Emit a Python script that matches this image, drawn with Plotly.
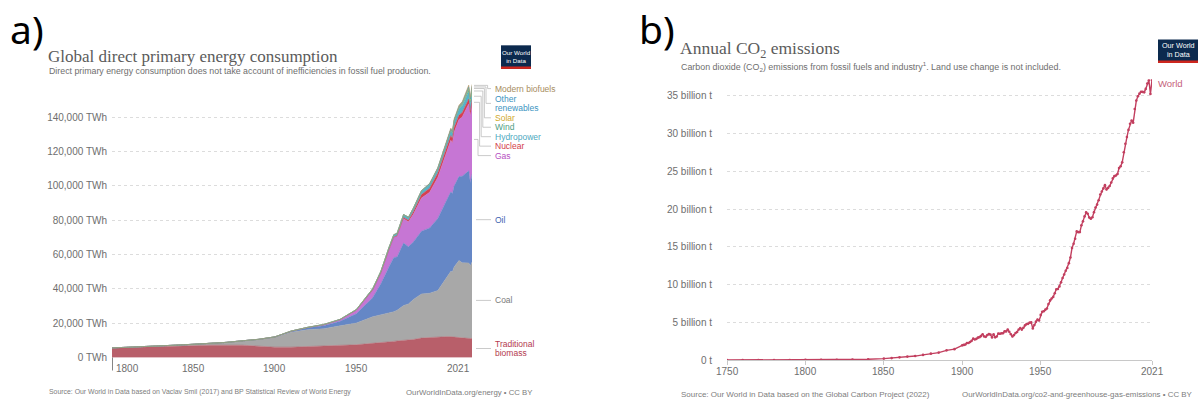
import plotly.graph_objects as go

W, H = 1200, 405

# ---------------- Panel a: global direct primary energy consumption (TWh) ----------------
energy_years = [1800, 1810, 1820, 1830, 1840, 1850, 1860, 1870, 1880, 1890, 1900, 1910, 1920,
                1930, 1940, 1950, 1960, 1965, 1970, 1973, 1975, 1979, 1982, 1985, 1990, 1995,
                2000, 2005, 2008, 2009, 2010, 2013, 2015, 2019, 2020, 2021]

traditional_biomass = [5556, 5833, 6111, 6389, 6944, 7222, 7222, 7222, 7222, 6667, 6111, 6111, 6389,
                       6667, 6944, 7500, 8333, 8611, 9167, 9444, 9722, 10000, 10278, 10556, 11389, 11667,
                       12222, 12222, 12222, 11944, 11944, 11667, 11389, 11111, 11111, 11111]
coal = [97, 128, 153, 264, 356, 569, 1061, 1642, 2542, 3856, 5728, 8656, 9833,
        10125, 11586, 12603, 15442, 16140, 16860, 17270, 17800, 20300, 21000, 23300, 25700, 25800,
        26800, 33400, 38000, 38000, 40800, 44900, 43800, 44000, 42300, 44500]
oil = [0, 0, 0, 0, 0, 0, 0, 6, 33, 89, 181, 511, 1097,
       1764, 2681, 5444, 11097, 18100, 26700, 31600, 31000, 36400, 33300, 33500, 36500, 38000,
       42000, 45700, 46300, 45600, 47000, 48800, 50400, 53600, 48400, 51200]
gas = [0, 0, 0, 0, 0, 0, 0, 0, 0, 64, 64, 161, 233,
       601, 875, 2092, 4472, 6300, 10000, 11700, 12000, 14200, 14500, 16100, 19300, 20800,
       23900, 27300, 30000, 29300, 31500, 33200, 34500, 39000, 38500, 40400]
nuclear = [0, 0, 0, 0, 0, 0, 0, 0, 0, 0, 0, 0, 0,
           0, 0, 0, 0, 25, 80, 200, 380, 690, 850, 1480, 2000, 2330,
           2580, 2770, 2740, 2700, 2770, 2490, 2570, 2800, 2700, 2800]
hydropower = [0, 0, 0, 0, 0, 0, 0, 0, 0, 0, 4, 30, 64,
              128, 192, 332, 689, 920, 1180, 1320, 1430, 1640, 1740, 1970, 2150, 2480,
              2650, 2920, 3200, 3250, 3430, 3780, 3880, 4230, 4340, 4270]
wind = [0, 0, 0, 0, 0, 0, 0, 0, 0, 0, 0, 0, 0,
        0, 0, 0, 0, 0, 0, 0, 0, 0, 0, 0, 4, 8,
        31, 104, 220, 276, 346, 645, 830, 1420, 1590, 1860]
solar = [0, 0, 0, 0, 0, 0, 0, 0, 0, 0, 0, 0, 0,
         0, 0, 0, 0, 0, 0, 0, 0, 0, 0, 0, 0, 0,
         1, 4, 12, 20, 34, 140, 256, 700, 840, 1030]
other_renewables = [0, 0, 0, 0, 0, 0, 0, 0, 0, 0, 0, 0, 0,
                    0, 0, 0, 0, 40, 55, 65, 75, 90, 110, 140, 200, 230,
                    260, 320, 370, 390, 420, 500, 560, 690, 720, 760]
modern_biofuels = [0, 0, 0, 0, 0, 0, 0, 0, 0, 0, 0, 0, 0,
                   0, 0, 0, 0, 0, 0, 0, 0, 0, 0, 0, 90, 100,
                   110, 230, 530, 580, 690, 760, 860, 1100, 1000, 1100]

energy_names = ["Traditional biomass", "Coal", "Oil", "Gas", "Nuclear", "Hydropower",
                "Wind", "Solar", "Other renewables", "Modern biofuels"]
energy_values = [traditional_biomass, coal, oil, gas, nuclear, hydropower,
                 wind, solar, other_renewables, modern_biofuels]
energy_fill = ["#b85f6a", "#a8a8a8", "#6587c6", "#c676d4", "#d6404f", "#59b3c9",
               "#5fb593", "#e0bf4a", "#3f9bc6", "#b39a6c"]
energy_label_colors = ["#b33a4e", "#7a7a7a", "#3d63b0", "#b54fc2", "#d23c48", "#4ea9c0",
                       "#4e9e84", "#cfa92c", "#3b94c1", "#a68c5e"]
# end labels, one entry per text line
energy_label_lines = [["Traditional", "biomass"], ["Coal"], ["Oil"], ["Gas"], ["Nuclear"],
                      ["Hydropower"], ["Wind"], ["Solar"], ["Other", "renewables"], ["Modern biofuels"]]
# vertical placement of the end labels (TWh scale, first line of each label)
energy_label_y = [8100, 33300, 80300, 117600, 123100, 128600, 134100, 139600, 150800, 156600]
LINE_STEP = 5600  # TWh between two lines of one label

energy_ticks = [0, 20000, 40000, 60000, 80000, 100000, 120000, 140000]
energy_tick_text = ["0 TWh", "20,000 TWh", "40,000 TWh", "60,000 TWh", "80,000 TWh",
                    "100,000 TWh", "120,000 TWh", "140,000 TWh"]
energy_year_ticks = [1800, 1850, 1900, 1950, 2021]

# ---------------- Panel b: annual CO2 emissions (billion t) ----------------
co2_years = [1750, 1760, 1770, 1780, 1790, 1800, 1810, 1820, 1830, 1840,
             1850, 1855, 1860, 1865, 1870, 1875, 1880, 1885, 1890, 1895] + list(range(1900, 2022))
co2_world = [0.009, 0.010, 0.011, 0.013, 0.016, 0.028, 0.036, 0.045, 0.070, 0.109,
             0.197, 0.263, 0.361, 0.461, 0.532, 0.688, 0.854, 0.989, 1.29, 1.45,
             1.95, 2.01, 2.06, 2.27, 2.27, 2.40, 2.55, 2.84, 2.72, 2.81,
             2.97, 3.02, 3.18, 3.43, 3.13, 3.08, 3.31, 3.44, 3.37, 2.99,
             3.43, 3.01, 3.12, 3.52, 3.49, 3.56, 3.55, 3.80, 3.80, 4.04,
             3.76, 3.42, 3.12, 3.31, 3.58, 3.72, 4.05, 4.26, 4.04, 4.28,
             4.62, 4.77, 4.80, 4.96, 4.99, 4.19, 4.65, 5.09, 5.37, 5.24,
             5.99, 6.40, 6.48, 6.68, 6.83, 7.42, 7.91, 8.16, 8.37, 8.86,
             9.39, 9.41, 9.76, 10.30, 10.87, 11.34, 11.83, 12.20, 12.84, 13.60,
             14.85, 15.41, 16.08, 17.05, 16.95, 16.96, 17.85, 18.38, 19.04, 19.57,
             19.38, 18.88, 18.74, 18.92, 19.60, 20.20, 20.60, 21.17, 21.93, 22.33,
             22.75, 23.18, 22.61, 22.81, 23.06, 23.53, 24.07, 24.37, 24.45, 24.66,
             25.45, 25.68, 26.20, 27.53, 28.67, 29.55, 30.50, 31.31, 31.74, 31.45,
             33.26, 34.38, 34.95, 35.30, 35.56, 35.53, 35.47, 35.93, 36.65, 37.08,
             35.26, 37.12]
co2_ticks = [0, 5, 10, 15, 20, 25, 30, 35]
co2_tick_text = ["0 t", "5 billion t", "10 billion t", "15 billion t", "20 billion t",
                 "25 billion t", "30 billion t", "35 billion t"]
co2_year_ticks = [1750, 1800, 1850, 1900, 1950, 2021]


def px(x):
    return x / W


def py(y):
    return 1 - y / H


SANS = "Liberation Sans, Arial, sans-serif"
SERIF = "Liberation Serif, Georgia, serif"

fig = go.Figure()

for name, vals, col in zip(energy_names, energy_values, energy_fill):
    fig.add_trace(go.Scatter(
        x=energy_years, y=vals, name=name, stackgroup="energy", mode="lines",
        line=dict(width=0.5, color=col), fillcolor=col,
        xaxis="x", yaxis="y", hoverinfo="skip", showlegend=False))

fig.add_trace(go.Scatter(
    x=co2_years, y=co2_world, name="World", mode="lines+markers",
    line=dict(width=1.4, color="#c23f5f"), marker=dict(size=2.6, color="#c23f5f"),
    xaxis="x2", yaxis="y2", hoverinfo="skip", showlegend=False))

annotations = []
shapes = []

# panel letters
for letter, x in (("a)", 8), ("b)", 637)):
    annotations.append(dict(text=letter, x=px(x), y=py(29), xref="paper", yref="paper",
                            xanchor="left", yanchor="middle", showarrow=False,
                            font=dict(family="Noto Sans, sans-serif", size=39, color="#000")))


def add_text(text, x, y, size, color, family=SANS, anchor="left"):
    annotations.append(dict(text=text, x=px(x), y=py(y), xref="paper", yref="paper",
                            xanchor=anchor, yanchor="middle", showarrow=False,
                            font=dict(family=family, size=size, color=color)))


# titles, subtitles and footers
add_text("Global direct primary energy consumption", 46, 57, 17, "#5b5b5b", SERIF)
add_text("Direct primary energy consumption does not take account of inefficiencies in fossil fuel production.",
         47, 72, 8.8, "#6e6e6e")
add_text("Source: Our World in Data based on Vaclav Smil (2017) and BP Statistical Review of World Energy",
         47, 398, 6.9, "#7d7d7d")
add_text("OurWorldInData.org/energy • CC BY", 535, 398, 7.8, "#7d7d7d", anchor="right")

add_text("Annual CO<sub>2</sub> emissions", 678, 50, 17.5, "#5b5b5b", SERIF)
add_text("Carbon dioxide (CO<sub>2</sub>) emissions from fossil fuels and industry<sup>1</sup>. Land use change is not included.",
         679, 67, 8.9, "#6e6e6e")
add_text("Source: Our World in Data based on the Global Carbon Project (2022)",
         679, 400, 8.0, "#7d7d7d")
add_text("OurWorldInData.org/co2-and-greenhouse-gas-emissions • CC BY", 1195, 400, 7.9,
         "#7d7d7d", anchor="right")

# Our World in Data logos
for (x0, y0, x1, y1, fs) in [(501, 46, 531, 70, 6.2), (1158, 40, 1198, 64, 7.2)]:
    shapes.append(dict(type="rect", xref="paper", yref="paper", x0=px(x0), x1=px(x1),
                       y0=py(y1), y1=py(y0), fillcolor="#0c2a4e", line=dict(width=0), layer="above"))
    shapes.append(dict(type="rect", xref="paper", yref="paper", x0=px(x0), x1=px(x1),
                       y0=py(y1), y1=py(y1 - 2.5), fillcolor="#ce261e", line=dict(width=0), layer="above"))
    annotations.append(dict(text="Our World<br>in Data", x=px((x0 + x1) / 2), y=py((y0 + y1) / 2 - 1),
                            xref="paper", yref="paper", xanchor="center", yanchor="middle",
                            showarrow=False, font=dict(family=SANS, size=fs, color="#ffffff")))

# year labels under each panel
for i, yr in enumerate(energy_year_ticks):
    anchor = "left" if i == 0 else ("right" if i == len(energy_year_ticks) - 1 else "center")
    annotations.append(dict(text=str(yr), x=yr, y=0, xref="x", yref="y", xanchor=anchor,
                            yanchor="top", yshift=-3, xshift=2 if i == 0 else 0, showarrow=False,
                            font=dict(family=SANS, size=10, color="#6e6e6e")))
for yr in co2_year_ticks:
    annotations.append(dict(text=str(yr), x=yr, y=0, xref="x2", yref="y2", xanchor="center",
                            yanchor="top", yshift=-4, showarrow=False,
                            font=dict(family=SANS, size=10, color="#6e6e6e")))

# dark marker at the start of the energy time axis
shapes.append(dict(type="line", xref="x", yref="paper", x0=energy_years[0], x1=energy_years[0],
                   y0=py(376), y1=py(363), line=dict(color="#333", width=1.2)))

# end labels with leader lines for the stacked areas
last = [v[-1] for v in energy_values]
cum = 0
for i, (name, v_end) in enumerate(zip(energy_names, last)):
    mid = cum + v_end / 2
    cum += v_end
    ly = energy_label_y[i]
    for k, line_text in enumerate(energy_label_lines[i]):
        annotations.append(dict(text=line_text, x=px(494), y=ly - k * LINE_STEP, xref="paper", yref="y",
                                xanchor="left", yanchor="middle", showarrow=False, borderpad=0,
                                font=dict(family=SANS, size=8.5, color=energy_label_colors[i])))
    # leader line meets the label between its lines
    lead_y = ly - (len(energy_label_lines[i]) - 1) * LINE_STEP / 2
    if name in ("Traditional biomass", "Coal", "Oil"):
        shapes.append(dict(type="line", xref="paper", yref="y", x0=px(476), x1=px(491),
                           y0=lead_y, y1=lead_y, line=dict(color="#bdbdbd", width=0.8)))
    else:
        xb = 478 + (i - 3) * 1.6
        shapes.append(dict(type="line", xref="paper", yref="y", x0=px(474), x1=px(xb),
                           y0=mid, y1=mid, line=dict(color="#bdbdbd", width=0.8)))
        shapes.append(dict(type="line", xref="paper", yref="y", x0=px(xb), x1=px(xb),
                           y0=mid, y1=lead_y, line=dict(color="#bdbdbd", width=0.8)))
        shapes.append(dict(type="line", xref="paper", yref="y", x0=px(xb), x1=px(491),
                           y0=lead_y, y1=lead_y, line=dict(color="#bdbdbd", width=0.8)))

# series label at the end of the CO2 line
annotations.append(dict(text="World", x=co2_years[-1], y=co2_world[-1], xref="x2", yref="y2",
                        xanchor="left", yanchor="middle", xshift=4, yshift=-4, showarrow=False,
                        font=dict(family=SANS, size=9.5, color="#c5607a")))

grid = dict(showgrid=True, gridcolor="#dcdcdc", griddash="dot", gridwidth=1)

fig.update_layout(
    width=W, height=H,
    margin=dict(l=0, r=0, t=0, b=0),
    paper_bgcolor="#ffffff", plot_bgcolor="#ffffff",
    showlegend=False,
    xaxis=dict(domain=[px(112), px(472)], range=[1800, 2021], showgrid=False, zeroline=False,
               showticklabels=False, ticks="", showline=False, anchor="y"),
    yaxis=dict(domain=[py(363), py(84)], range=[0, 160000], zeroline=False, anchor="x",
               tickvals=energy_ticks, ticktext=energy_tick_text, ticks="",
               tickfont=dict(family=SANS, size=10, color="#6e6e6e"), ticklabelstandoff=4, **grid),
    xaxis2=dict(domain=[px(727), px(1152)], range=[1750, 2021], showgrid=False, zeroline=False,
                showticklabels=False, tickvals=co2_year_ticks, ticks="outside", ticklen=4,
                tickcolor="#c8c8c8", showline=True, linecolor="#c8c8c8", linewidth=1, anchor="y2"),
    yaxis2=dict(domain=[py(365.5), py(80.5)], range=[0, 37.2], zeroline=False, anchor="x2",
                tickvals=co2_ticks, ticktext=co2_tick_text, ticks="",
                tickfont=dict(family=SANS, size=10, color="#6e6e6e"), ticklabelstandoff=14, **grid),
    annotations=annotations,
    shapes=shapes,
)

fig.write_html("out.html")
